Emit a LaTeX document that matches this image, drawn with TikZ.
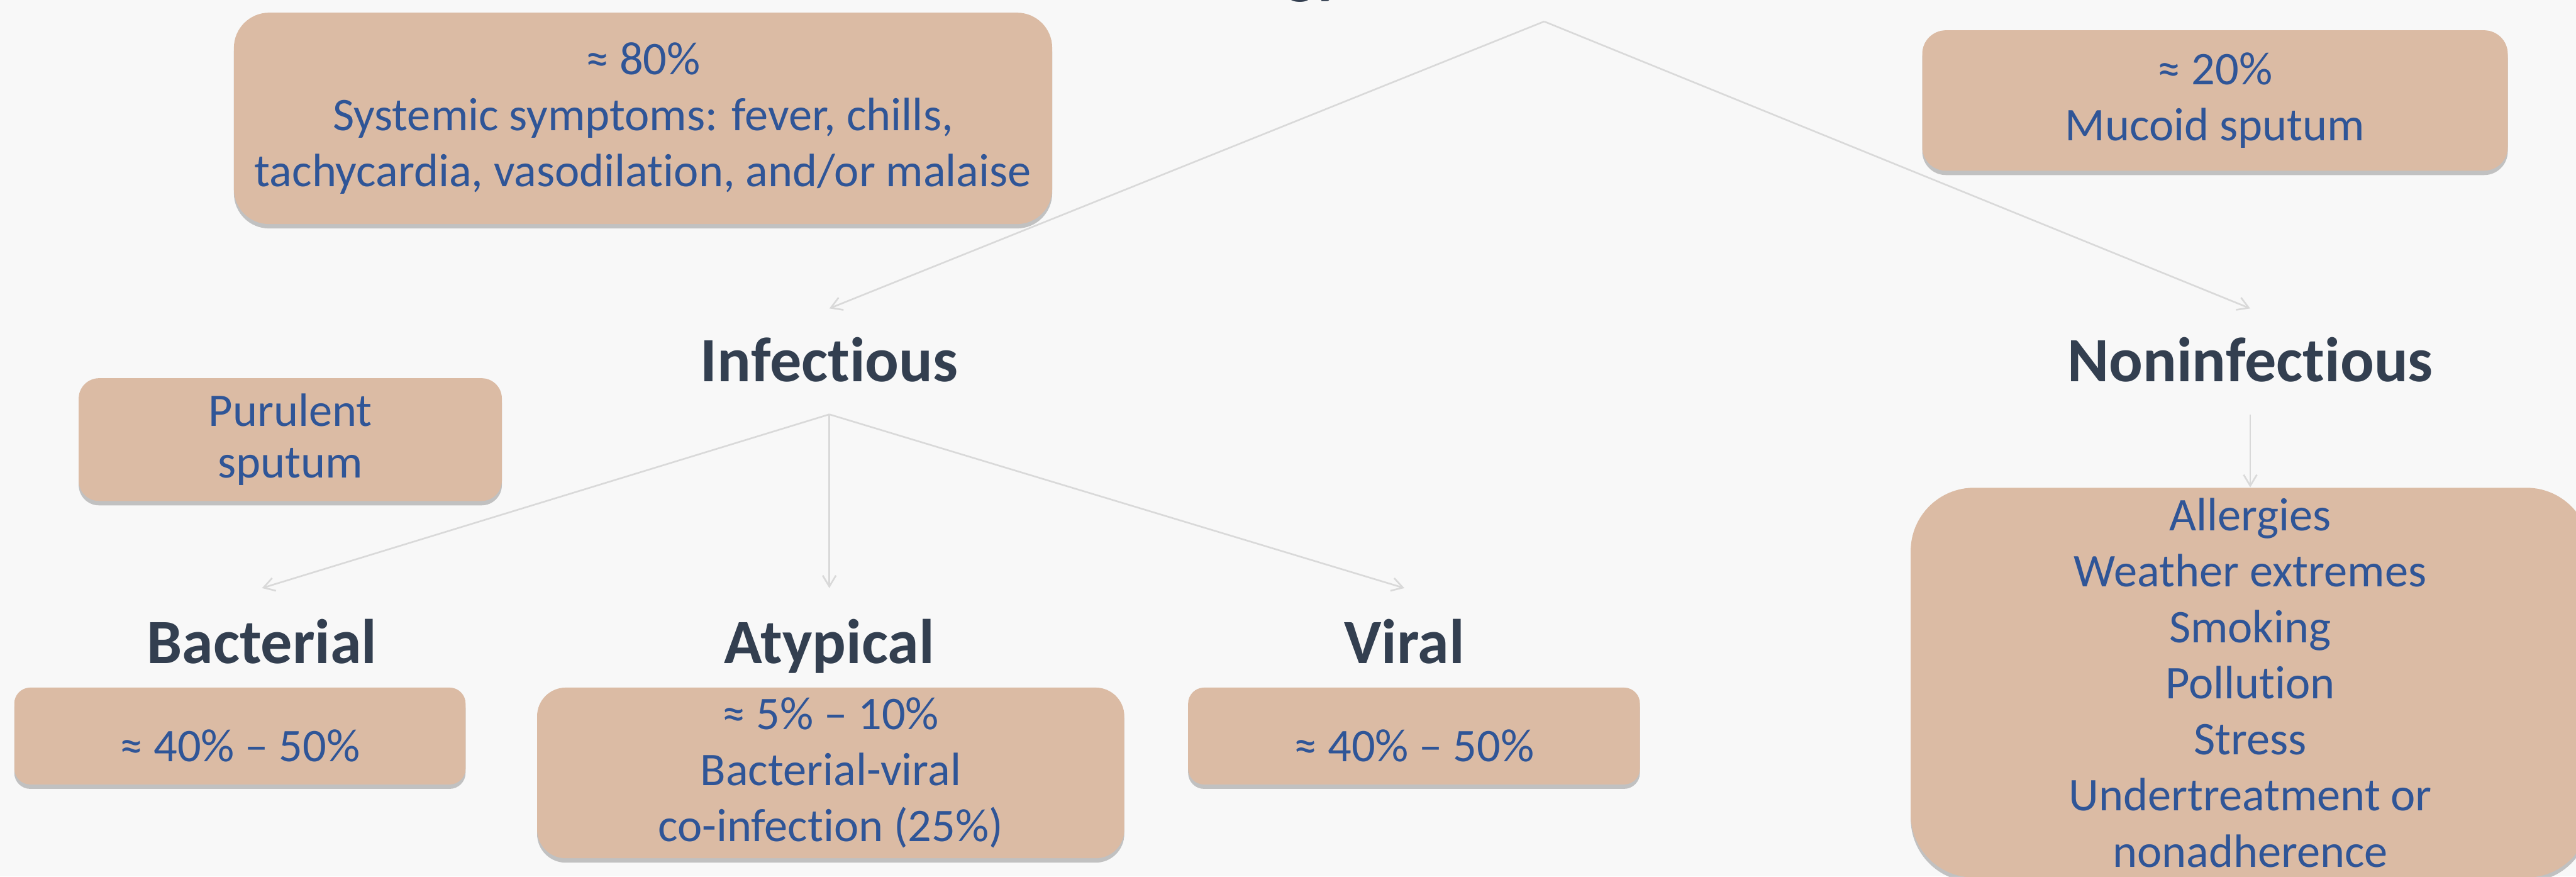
\documentclass[tikz,border=0pt]{standalone}
\usepackage{fontspec}
\setmainfont{Carlito}[Ligatures={NoCommon}]
\usetikzlibrary{arrows.meta, shadows}

\definecolor{bgcol}{HTML}{F8F8F8}
\definecolor{boxfill}{HTML}{DBBBA4}
\definecolor{boxtext}{HTML}{2F5597}
\definecolor{headtext}{HTML}{333F50}
\definecolor{arrowgray}{HTML}{D9D9D9}

\tikzset{
	box/.style={fill=boxfill, draw=none, text=boxtext, align=center, inner sep=0pt,
		font=\fontsize{24.2}{29}\selectfont,
		drop shadow={shadow xshift=0cm, shadow yshift=-0.08cm, opacity=0.22, fill=black}},
	onebox/.style={box, text height=0.92cm, text depth=0cm},
	head/.style={text=headtext, inner sep=0pt, font=\fontsize{32.6}{38}\selectfont\bfseries,
		text height=0.73cm, text depth=0cm},
	arr/.style={draw=arrowgray, line width=0.03cm, -{Straight Barb[length=0.2cm, width=0.24cm]}}
}

\begin{document}
\begin{tikzpicture}
	\useasboundingbox[fill=bgcol] (0,0) rectangle (46.81,-15.92);
	
	%title, cut off at the top
	\node[head, anchor=base east] (title) at (24.45,0.15) {Etiology};
	\coordinate (top) at (28.06,-0.39);
	
	%boxes
	\node[box, minimum width=14.87cm, minimum height=3.84cm, rounded corners=0.64cm] (sym) at (11.685,-2.15)
		{≈ 80\%\\Systemic symptoms: fever, chills,\\tachycardia, vasodilation, and/or malaise};
	\node[box, minimum width=10.64cm, minimum height=2.55cm, rounded corners=0.43cm] (muc) at (40.25,-1.825)
		{≈ 20\%\\Mucoid sputum};
	\node[box, minimum width=7.69cm, minimum height=2.23cm, rounded corners=0.37cm,
		font=\fontsize{24.2}{26.5}\selectfont] (pur) at (5.275,-7.985) {Purulent\\sputum};
	\node[onebox, minimum width=8.2cm, minimum height=1.76cm, rounded corners=0.29cm] (bacbox) at (4.36,-13.37)
		{≈ 40\% – 50\%};
	\node[box, minimum width=10.67cm, minimum height=3.1cm, rounded corners=0.52cm] (atybox) at (15.095,-14.04)
		{≈ 5\% – 10\%\\Bacterial-viral\\co-infection (25\%)};
	\node[onebox, minimum width=8.21cm, minimum height=1.76cm, rounded corners=0.29cm] (virbox) at (25.695,-13.37)
		{≈ 40\% – 50\%};
	\node[box, minimum width=12.34cm, minimum height=7.08cm, rounded corners=1.15cm] (nonbox) at (40.89,-12.4)
		{Allergies\\Weather extremes\\Smoking\\Pollution\\Stress\\Undertreatment or\\nonadherence};
	
	%headings
	\node[head, minimum height=1.91cm] (inf) at (15.07,-6.565) {Infectious};
	\node[head, minimum height=1.91cm] (noninf) at (40.89,-6.565) {Noninfectious};
	\node[head, minimum height=2cm] (bac) at (4.76,-11.69) {Bacterial};
	\node[head, minimum height=2cm] (aty) at (15.07,-11.69) {Atypical};
	\node[head, minimum height=2cm] (vir) at (25.52,-11.69) {Viral};
	
	%arrows
	\draw[arr] (top) -- (inf.north);
	\draw[arr] (top) -- (noninf.north);
	\draw[arr] (inf.south) -- (bac.north);
	\draw[arr] (inf.south) -- (aty.north);
	\draw[arr] (inf.south) -- (vir.north);
	\draw[arr] (noninf.south) -- (nonbox.north);
\end{tikzpicture}
\end{document}
